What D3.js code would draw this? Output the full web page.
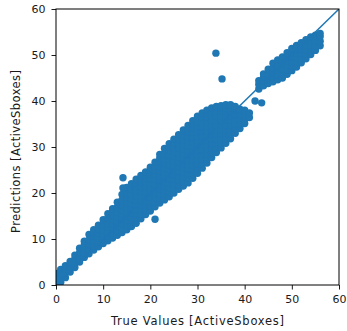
<!DOCTYPE html>
<html><head><meta charset="utf-8">
<script src="https://cdn.jsdelivr.net/npm/d3@7"></script>
<style>html,body{margin:0;padding:0;background:#fff;}svg{display:block;}</style>
</head><body>
<svg id="chart" width="347" height="331"></svg>
<script>
// ---- data ----
const xTicks = [0, 10, 20, 30, 40, 50, 60];
const yTicks = [0, 10, 20, 30, 40, 50, 60];
const xLabel = "True Values [ActiveSboxes]";
const yLabel = "Predictions [ActiveSboxes]";
const identityLine = [0, 60];

// true values (one per column) and predictions observed at each true value
const trueValueColumns = [0,1,2,3,4,5,6,7,8,9,10,11,12,13,14,15,16,17,18,19,20,21,22,23,24,25,26,27,28,29,30,31,32,33,34,35,36,37,38,39,40,41,43,44,45,46,47,48,49,50,51,52,53,54,55,56];
const predictionColumns = [
  [0.5, 1.5, 2.5],
  [0.6, 1.6, 2.5, 3.4],
  [1.6, 2.6, 3.4, 4.2],
  [2.8, 3.8, 4.5, 5.1],
  [3.8, 4.8, 5.7, 6.5],
  [5.0, 6.0, 7.0, 8.0],
  [6.0, 7.0, 7.9, 8.7, 9.5],
  [6.8, 7.8, 8.8, 9.8, 11.0],
  [7.6, 8.6, 9.6, 10.6, 11.4, 12.0],
  [8.3, 9.3, 10.3, 11.3, 12.2, 13.0],
  [9.0, 10.0, 11.0, 12.0, 13.1, 14.2],
  [9.6, 10.6, 11.6, 12.6, 13.6, 14.6, 15.5],
  [10.2, 11.2, 12.2, 13.2, 14.2, 15.2, 16.0, 16.6],
  [10.8, 11.8, 12.8, 13.8, 14.8, 15.8, 16.9, 18.0],
  [11.4, 12.4, 13.4, 14.4, 15.4, 16.4, 17.4, 18.5, 19.7],
  [12.0, 13.0, 14.0, 15.0, 16.0, 17.0, 18.0, 19.0, 20.1, 21.2],
  [12.7, 13.7, 14.7, 15.7, 16.7, 17.7, 18.7, 19.7, 20.8, 22.0],
  [13.4, 14.4, 15.4, 16.4, 17.4, 18.4, 19.4, 20.4, 21.4, 22.2, 23.0],
  [14.4, 15.4, 16.4, 17.4, 18.4, 19.4, 20.4, 21.4, 22.4, 23.1, 23.8],
  [15.3, 16.3, 17.3, 18.3, 19.3, 20.3, 21.3, 22.3, 23.3, 24.0, 24.6],
  [16.1, 17.1, 18.1, 19.1, 20.1, 21.1, 22.1, 23.1, 24.1, 25.0, 25.6],
  [17.0, 18.0, 19.0, 20.0, 21.0, 22.0, 23.0, 24.0, 25.0, 25.9, 26.7],
  [17.8, 18.8, 19.8, 20.8, 21.8, 22.8, 23.8, 24.8, 25.8, 26.8, 27.6, 28.4],
  [18.5, 19.5, 20.5, 21.5, 22.5, 23.5, 24.5, 25.5, 26.5, 27.5, 28.6, 29.7],
  [19.2, 20.2, 21.2, 22.2, 23.2, 24.2, 25.2, 26.2, 27.2, 28.2, 29.2, 30.0, 30.7],
  [20.0, 21.0, 22.0, 23.0, 24.0, 25.0, 26.0, 27.0, 28.0, 29.0, 30.0, 30.9, 31.7],
  [20.8, 21.8, 22.8, 23.8, 24.8, 25.8, 26.8, 27.8, 28.8, 29.8, 30.8, 31.8, 32.7],
  [21.5, 22.5, 23.5, 24.5, 25.5, 26.5, 27.5, 28.5, 29.5, 30.5, 31.5, 32.6, 33.7],
  [22.2, 23.2, 24.2, 25.2, 26.2, 27.2, 28.2, 29.2, 30.2, 31.2, 32.2, 33.2, 34.0, 34.7],
  [23.2, 24.2, 25.2, 26.2, 27.2, 28.2, 29.2, 30.2, 31.2, 32.2, 33.2, 34.2, 35.0, 35.7],
  [24.3, 25.3, 26.3, 27.3, 28.3, 29.3, 30.3, 31.3, 32.3, 33.3, 34.3, 35.3, 36.0, 36.7],
  [25.4, 26.4, 27.4, 28.4, 29.4, 30.4, 31.4, 32.4, 33.4, 34.4, 35.4, 36.4, 37.4],
  [26.5, 27.5, 28.5, 29.5, 30.5, 31.5, 32.5, 33.5, 34.5, 35.5, 36.5, 37.3, 38.0],
  [27.7, 28.7, 29.7, 30.7, 31.7, 32.7, 33.7, 34.7, 35.7, 36.7, 37.6, 38.5],
  [28.8, 29.8, 30.8, 31.8, 32.8, 33.8, 34.8, 35.8, 36.8, 37.8, 38.8],
  [29.8, 30.8, 31.8, 32.8, 33.8, 34.8, 35.8, 36.8, 37.8, 38.5, 39.0],
  [30.8, 31.8, 32.8, 33.8, 34.8, 35.8, 36.8, 37.8, 38.6, 39.2],
  [31.8, 32.8, 33.8, 34.8, 35.8, 36.8, 37.8, 38.6, 39.2],
  [33.0, 34.0, 35.0, 36.0, 37.0, 38.0, 38.8],
  [34.0, 35.0, 36.0, 37.0, 38.2],
  [35.1, 36.0, 37.0, 38.0],
  [36.4, 37.4],
  [42.6, 43.6, 44.4],
  [43.3, 44.3, 45.2, 45.9],
  [43.8, 44.8, 45.8, 46.9],
  [44.2, 45.2, 46.2, 47.2, 48.2],
  [44.6, 45.6, 46.6, 47.6, 48.9],
  [45.0, 46.0, 47.0, 48.0, 49.0, 49.6],
  [45.8, 46.8, 47.8, 48.8, 49.8, 50.5],
  [46.6, 47.6, 48.6, 49.6, 50.6, 51.4],
  [47.4, 48.4, 49.4, 50.4, 51.3, 52.1],
  [48.3, 49.3, 50.3, 51.3, 52.0, 52.7],
  [49.2, 50.2, 51.2, 52.2, 53.3],
  [50.1, 51.1, 52.1, 53.0, 53.9],
  [51.0, 52.0, 53.0, 54.3],
  [52.0, 53.0, 54.0, 54.7]
];
// isolated points
const outlierTrue = [14.2, 14.2, 21.0, 33.9, 35.2, 42.2, 43.6];
const outlierPred = [21.1, 23.3, 14.3, 50.4, 44.8, 40.0, 39.6];

// ---- layout ----
const W = 347, H = 331;
const m = {left: 56, right: 8, top: 9, bottom: 46};
const color = "#1f77b4";
const font = "DejaVu Sans, sans-serif";
const ink = "#1a1a1a";

const svg = d3.select("#chart");
const x = d3.scaleLinear().domain([0, 60]).range([m.left, W - m.right]);
const y = d3.scaleLinear().domain([0, 60]).range([H - m.bottom, m.top]);

svg.append("defs").append("clipPath").attr("id", "clip")
  .append("rect").attr("x", m.left).attr("y", m.top)
  .attr("width", W - m.left - m.right).attr("height", H - m.top - m.bottom);

const points = [];
trueValueColumns.forEach((tv, i) => predictionColumns[i].forEach(p => points.push([tv, p])));
outlierTrue.forEach((tv, i) => points.push([tv, outlierPred[i]]));

const g = svg.append("g").attr("clip-path", "url(#clip)");
g.selectAll("circle").data(points).join("circle")
  .attr("cx", d => x(d[0])).attr("cy", d => y(d[1])).attr("r", 3.7)
  .attr("fill", color);

g.append("line")
  .attr("x1", x(identityLine[0])).attr("y1", y(identityLine[0]))
  .attr("x2", x(identityLine[1])).attr("y2", y(identityLine[1]))
  .attr("stroke", color).attr("stroke-width", 1.5);

// axes
const xAxis = svg.append("g").attr("transform", `translate(0,${H - m.bottom})`)
  .call(d3.axisBottom(x).tickValues(xTicks).tickSize(4.5).tickPadding(5.5).tickSizeOuter(0));
const yAxis = svg.append("g").attr("transform", `translate(${m.left},0)`)
  .call(d3.axisLeft(y).tickValues(yTicks).tickSize(4.5).tickPadding(6).tickSizeOuter(0));
[xAxis, yAxis].forEach(a => {
  a.select(".domain").remove();
  a.selectAll("line").attr("stroke", "#000").attr("stroke-width", 0.9);
  a.selectAll("text").attr("font-family", font).attr("font-size", 11).attr("fill", ink);
});

// frame
svg.append("rect").attr("x", m.left).attr("y", m.top)
  .attr("width", W - m.left - m.right).attr("height", H - m.top - m.bottom)
  .attr("fill", "none").attr("stroke", "#000").attr("stroke-width", 1);

svg.append("text").attr("x", 197.5).attr("y", 325)
  .attr("text-anchor", "middle").attr("font-family", font).attr("font-size", 11.5)
  .attr("textLength", 173).attr("lengthAdjust", "spacing")
  .attr("fill", ink).text(xLabel);
svg.append("text").attr("transform", `translate(20,151.5) rotate(-90)`)
  .attr("text-anchor", "middle").attr("font-family", font).attr("font-size", 11.5)
  .attr("textLength", 163).attr("lengthAdjust", "spacing")
  .attr("fill", ink).text(yLabel);
</script>
</body></html>
